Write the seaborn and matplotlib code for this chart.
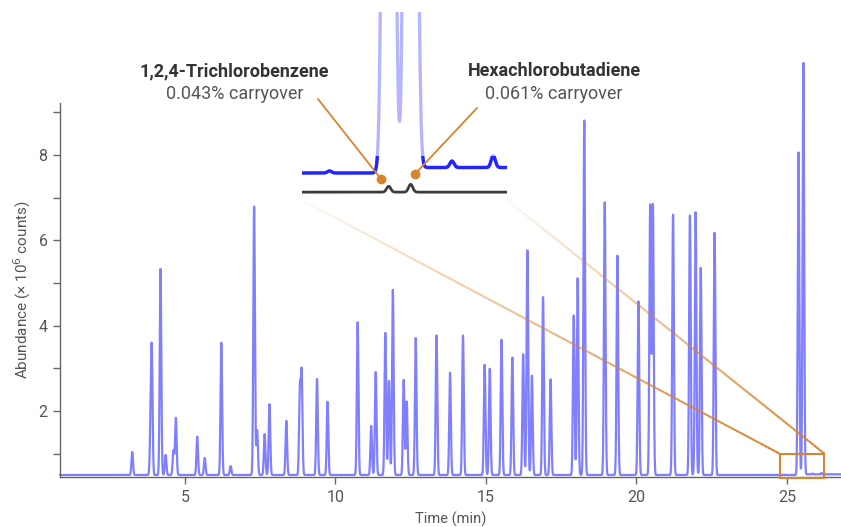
import numpy as np
import pandas as pd
import matplotlib
matplotlib.use("Agg")
import matplotlib.pyplot as plt
import seaborn as sns
from matplotlib.collections import LineCollection
from matplotlib.lines import Line2D
from matplotlib.patches import Rectangle

# ---------------- data ----------------
# main chromatogram: peak retention times (min) and apex abundance (x 10^6 counts)
peak_times = [3.25, 3.86, 3.90, 4.19, 4.36, 4.62, 4.70, 5.41, 5.66, 6.21, 6.52,
              7.30, 7.40, 7.65, 7.81, 8.37, 8.82, 8.88, 9.39, 9.74, 10.74,
              11.19, 11.34, 11.66, 11.78, 11.91, 12.27, 12.37, 12.67, 13.36,
              13.81, 14.24, 14.96, 15.13, 15.52, 15.88, 16.24, 16.38, 16.53,
              16.90, 17.15, 17.92, 18.05, 18.27, 18.95, 19.37, 20.07, 20.46,
              20.55, 21.22, 21.78, 21.97, 22.14, 22.60, 25.39, 25.55]
peak_heights = [1.04, 1.46, 3.27, 5.33, 0.97, 1.07, 1.84, 1.40, 0.90, 3.60, 0.71,
                6.81, 1.55, 1.46, 2.16, 1.77, 2.50, 2.85, 2.75, 2.22, 4.09,
                1.65, 2.92, 3.84, 2.71, 4.84, 2.73, 2.22, 3.71, 3.78,
                2.90, 3.78, 3.09, 2.99, 3.68, 3.26, 3.34, 5.78, 2.83,
                4.68, 2.74, 4.25, 5.11, 8.81, 6.89, 5.64, 4.57, 6.84,
                6.84, 6.62, 6.60, 6.66, 5.37, 6.19, 8.06, 10.16]
baseline_before = 0.500          # baseline before the last two peaks
baseline_after = 0.516           # slightly raised baseline after them
baseline_step_time = 25.62
# small baseline features visible only in the zoomed inset
minor_times = [24.96, 25.85, 26.15]
minor_heights = [0.006, 0.019, 0.035]

# blank run (carryover) shown in black in the inset
blank_baseline = 0.444
blank_times = [25.39, 25.55]
blank_heights = [0.017, 0.023]

x_ticks = [5, 10, 15, 20, 25]
y_ticks = [2, 4, 6, 8]
y_minor = [1, 3, 5, 7, 9]
x_range = (0.85, 26.8)
y_range = (0.453, 9.22)
zoom_x = (24.76, 26.25)
zoom_y = (0.44, 1.0)
inset_y = (0.421, 0.971)

labels = [("1,2,4-Trichlorobenzene", "0.043% carryover"),
          ("Hexachlorobutadiene", "0.061% carryover")]

# ---------------- build traces ----------------
PEAK_SIGMA = 0.026
MINOR_SIGMA = 0.015
t = np.arange(x_range[0], x_range[1], 0.004)
sig = np.where(t < baseline_step_time, baseline_before, baseline_after).astype(float)
for pt, ph in zip(peak_times, peak_heights):
    sig += (ph - baseline_before) * np.exp(-0.5 * ((t - pt) / PEAK_SIGMA) ** 2)
for pt, ph in zip(minor_times, minor_heights):
    sig += ph * np.exp(-0.5 * ((t - pt) / MINOR_SIGMA) ** 2)
df = pd.DataFrame({"time": t, "abundance": sig})

tb = np.arange(zoom_x[0], zoom_x[1], 0.004)
blank = np.full_like(tb, blank_baseline)
for pt, ph in zip(blank_times, blank_heights):
    blank += ph * np.exp(-0.5 * ((tb - pt) / MINOR_SIGMA) ** 2)
df_blank = pd.DataFrame({"time": tb, "abundance": blank})
df_zoom = df[(df.time >= zoom_x[0]) & (df.time <= zoom_x[1])]

# ---------------- figure ----------------
sns.set_style("ticks")
plt.rcParams["font.family"] = ["Roboto", "DejaVu Sans"]
W, H = 841, 527
fig = plt.figure(figsize=(W / 100, H / 100), dpi=100)


def P(x, y):
    return (x / W, 1 - y / H)


ax = fig.add_axes([60 / W, 1 - 477 / H, (W - 60) / W, (477 - 103) / H])
sns.lineplot(data=df, x="time", y="abundance", ax=ax, color="#0000ff",
             alpha=0.5, linewidth=1.6, estimator=None, sort=False)
ax.lines[-1].set_clip_on(False)
ax.set_xlim(*x_range)
ax.set_ylim(*y_range)
ax.set_xticks(x_ticks)
ax.set_yticks(y_ticks)
ax.set_yticks(y_minor, minor=True)
ax.tick_params(axis="both", which="both", length=5, width=1, color="#666666",
               labelcolor="#555555", labelsize=11.5, pad=4)
sns.despine(ax=ax)
for s in ("left", "bottom"):
    ax.spines[s].set_color("#666666")
    ax.spines[s].set_linewidth(1)
ax.set_xlabel("Time (min)", fontsize=10.5, color="#555555", labelpad=5)
ax.set_ylabel("Abundance (× 10$^6$ counts)", fontsize=11, color="#555555", labelpad=4)

orange = "#d8842f"
ax.add_patch(Rectangle((zoom_x[0], zoom_y[0]), zoom_x[1] - zoom_x[0],
                       zoom_y[1] - zoom_y[0], fill=False, edgecolor=orange,
                       linewidth=1.5, clip_on=False, zorder=5))

# inset: faint full trace, plus a strong copy limited to the baseline band
axin = fig.add_axes([302 / W, 1 - 200 / H, 205 / W, 188 / H])
sns.lineplot(data=df_zoom, x="time", y="abundance", ax=axin, color="#3030ff",
             alpha=0.35, linewidth=2.4, estimator=None, sort=False)
sns.lineplot(data=df_zoom, x="time", y="abundance", ax=axin, color="#0a0aff",
             alpha=0.85, linewidth=2.4, estimator=None, sort=False)
axin.set_xlim(*zoom_x)
axin.set_ylim(*inset_y)
band = Rectangle((zoom_x[0], inset_y[0]), zoom_x[1] - zoom_x[0], 0.13,
                 transform=axin.transData, visible=False)
axin.add_patch(band)
axin.lines[-1].set_clip_path(band)
sns.lineplot(data=df_blank, x="time", y="abundance", ax=axin, color="#1a1a1a",
             alpha=0.85, linewidth=2.0, estimator=None, sort=False)
axin.axis("off")

# connectors with fading gradient
fig.canvas.draw()
inv = fig.transFigure.inverted()
starts = [axin.transAxes.transform((0, 0)), axin.transAxes.transform((1, 0))]
ends = [ax.transData.transform((zoom_x[0], zoom_y[1])),
        ax.transData.transform((zoom_x[1], zoom_y[1]))]
N = 120
for s0, e0 in zip(starts, ends):
    a = inv.transform(s0)
    b = inv.transform(e0)
    pts = np.linspace(a, b, N + 1)
    segs = np.stack([pts[:-1], pts[1:]], axis=1)
    alphas = np.linspace(0.03, 1.0, N) ** 0.9
    cols = [matplotlib.colors.to_rgba(orange, al) for al in alphas]
    lc = LineCollection(segs, colors=cols, linewidths=1.5,
                        transform=fig.transFigure, zorder=6)
    fig.add_artist(lc)

# leader lines and dots
for (x0, y0), (x1, y1) in [((318, 99), (381, 179)), ((477, 108), (415, 174))]:
    fig.add_artist(Line2D([P(x0, y0)[0], P(x1, y1)[0]], [P(x0, y0)[1], P(x1, y1)[1]],
                          transform=fig.transFigure, color=orange, linewidth=1.3, zorder=7))
    fig.add_artist(Line2D([P(x1, y1)[0]], [P(x1, y1)[1]], transform=fig.transFigure,
                          marker="o", markersize=6, color=orange, zorder=8))

for (name, note), cx in zip(labels, [234.5, 554]):
    fig.text(*P(cx, 71), name, ha="center", va="center", fontsize=13,
             fontweight="bold", color="#333333")
    fig.text(*P(cx, 94), note, ha="center", va="center", fontsize=13,
             color="#555555")

fig.savefig("out.png", dpi=100)
